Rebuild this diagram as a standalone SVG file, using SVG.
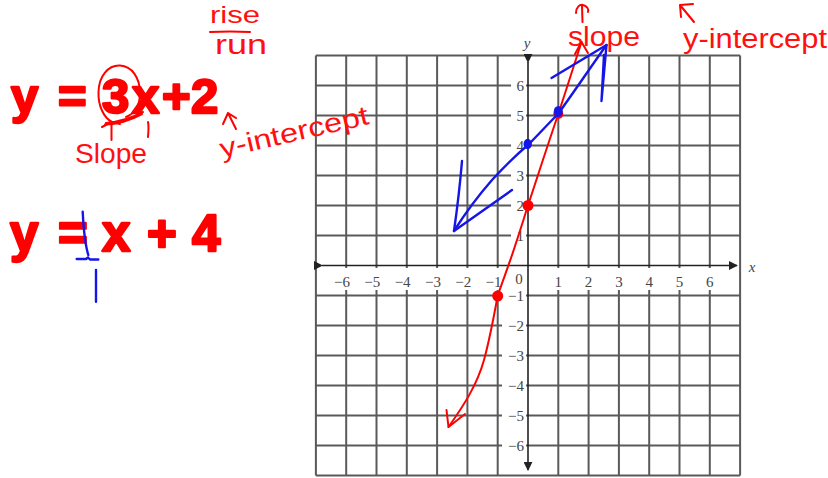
<svg xmlns="http://www.w3.org/2000/svg" width="828" height="478" viewBox="0 0 828 478">
<style>
.grid line{stroke:#5a5a5a;stroke-width:2}
.lbl{font-family:"Liberation Serif",serif;font-size:15px;fill:#454545}
.ax{stroke:#222;stroke-width:1.6;fill:none}
.eq{font-family:"Liberation Sans",Arial,sans-serif;font-weight:bold;fill:#ff0000;stroke:#ff0000;stroke-width:2.4;stroke-linejoin:round}
.hw{font-family:"Liberation Sans",Arial,sans-serif;fill:#ff1010}
.red{stroke:#ff0000;stroke-width:2;fill:none;stroke-linecap:round;stroke-linejoin:round}
.blue{stroke:#1515e8;stroke-width:2.4;fill:none;stroke-linecap:round;stroke-linejoin:round}
.bg{fill:#fff}
</style>
<defs>
<marker id="ah" viewBox="0 0 10 10" refX="9" refY="5" markerWidth="9" markerHeight="9" markerUnits="userSpaceOnUse" orient="auto">
<path d="M0,0 L10,5 L0,10 Z" fill="#222"/>
</marker>
</defs>
<rect width="828" height="478" fill="#fff"/>
<g id="grid" class="grid">
<line x1="315.9" y1="55.5" x2="315.9" y2="475.5"/>
<line x1="346.2" y1="55.5" x2="346.2" y2="475.5"/>
<line x1="376.5" y1="55.5" x2="376.5" y2="475.5"/>
<line x1="406.8" y1="55.5" x2="406.8" y2="475.5"/>
<line x1="437.1" y1="55.5" x2="437.1" y2="475.5"/>
<line x1="467.4" y1="55.5" x2="467.4" y2="475.5"/>
<line x1="497.7" y1="55.5" x2="497.7" y2="475.5"/>
<line x1="558.3" y1="55.5" x2="558.3" y2="475.5"/>
<line x1="588.6" y1="55.5" x2="588.6" y2="475.5"/>
<line x1="618.9" y1="55.5" x2="618.9" y2="475.5"/>
<line x1="649.2" y1="55.5" x2="649.2" y2="475.5"/>
<line x1="679.5" y1="55.5" x2="679.5" y2="475.5"/>
<line x1="709.8" y1="55.5" x2="709.8" y2="475.5"/>
<line x1="740.1" y1="55.5" x2="740.1" y2="475.5"/>
<line x1="315.9" y1="55.5" x2="740.1" y2="55.5"/>
<line x1="315.9" y1="85.5" x2="740.1" y2="85.5"/>
<line x1="315.9" y1="115.5" x2="740.1" y2="115.5"/>
<line x1="315.9" y1="145.5" x2="740.1" y2="145.5"/>
<line x1="315.9" y1="175.5" x2="740.1" y2="175.5"/>
<line x1="315.9" y1="205.5" x2="740.1" y2="205.5"/>
<line x1="315.9" y1="235.5" x2="740.1" y2="235.5"/>
<line x1="315.9" y1="295.5" x2="740.1" y2="295.5"/>
<line x1="315.9" y1="325.5" x2="740.1" y2="325.5"/>
<line x1="315.9" y1="355.5" x2="740.1" y2="355.5"/>
<line x1="315.9" y1="385.5" x2="740.1" y2="385.5"/>
<line x1="315.9" y1="415.5" x2="740.1" y2="415.5"/>
<line x1="315.9" y1="445.5" x2="740.1" y2="445.5"/>
<line x1="315.9" y1="475.5" x2="740.1" y2="475.5"/>
</g>
<g id="label-backs" class="bg">
<rect x="511" y="78" width="15" height="15"/>
<rect x="511" y="108" width="15" height="15"/>
<rect x="511" y="138" width="15" height="15"/>
<rect x="511" y="168" width="15" height="15"/>
<rect x="511" y="198" width="15" height="15"/>
<rect x="511" y="228" width="15" height="15"/>
<rect x="502" y="288" width="24" height="15"/>
<rect x="502" y="318" width="24" height="15"/>
<rect x="502" y="348" width="24" height="15"/>
<rect x="502" y="378" width="24" height="15"/>
<rect x="502" y="408" width="24" height="15"/>
<rect x="502" y="438" width="24" height="15"/>
<rect x="329" y="268" width="23" height="22"/>
<rect x="359" y="268" width="23" height="22"/>
<rect x="389" y="268" width="23" height="22"/>
<rect x="420" y="268" width="23" height="22"/>
<rect x="450" y="268" width="23" height="22"/>
<rect x="480" y="268" width="23" height="22"/>
<rect x="512" y="268" width="14" height="22"/>
<rect x="552" y="268" width="13" height="22"/>
<rect x="582" y="268" width="13" height="22"/>
<rect x="612" y="268" width="13" height="22"/>
<rect x="643" y="268" width="13" height="22"/>
<rect x="673" y="268" width="13" height="22"/>
<rect x="703" y="268" width="13" height="22"/>
</g>
<g id="axes">
<line class="ax" x1="322" y1="265.5" x2="737" y2="265.5" marker-start="url(#ah)" marker-end="url(#ah)"/>
<line class="ax" x1="528" y1="62" x2="528" y2="470" marker-start="url(#ah)" marker-end="url(#ah)"/>
<text x="527" y="48" text-anchor="middle" class="lbl" font-style="italic" font-size="16">y</text>
<text x="752" y="272" text-anchor="middle" class="lbl" font-style="italic" font-size="16">x</text>
</g>
<g id="y-labels" class="lbl" text-anchor="end">
<text x="524" y="90.5">6</text>
<text x="524" y="120.5">5</text>
<text x="524" y="150.5">4</text>
<text x="524" y="180.5">3</text>
<text x="524" y="210.5">2</text>
<text x="524" y="240.5">1</text>
<text x="524" y="300.5">−1</text>
<text x="524" y="330.5">−2</text>
<text x="524" y="360.5">−3</text>
<text x="524" y="390.5">−4</text>
<text x="524" y="420.5">−5</text>
<text x="524" y="450.5">−6</text>
</g>
<g id="x-labels" class="lbl">
<text x="350" y="287" text-anchor="end">−6</text>
<text x="380.3" y="287" text-anchor="end">−5</text>
<text x="410.6" y="287" text-anchor="end">−4</text>
<text x="440.9" y="287" text-anchor="end">−3</text>
<text x="471.2" y="287" text-anchor="end">−2</text>
<text x="501.5" y="287" text-anchor="end">−1</text>
<text x="519" y="284" text-anchor="middle">0</text>
<text x="558.3" y="287" text-anchor="middle">1</text>
<text x="588.6" y="287" text-anchor="middle">2</text>
<text x="618.9" y="287" text-anchor="middle">3</text>
<text x="649.2" y="287" text-anchor="middle">4</text>
<text x="679.5" y="287" text-anchor="middle">5</text>
<text x="709.8" y="287" text-anchor="middle">6</text>
</g>
<g id="equation-1">
<text class="eq" font-size="49" x="11 58 102 132 162 191" y="113">y=3x+2</text>
</g>
<g id="equation-2">
<text class="eq" font-size="51" x="10 58 102 147 192" y="251">y=x+4</text>
</g>
<g id="red-notes">
<text class="hw" x="210" y="23" font-size="24" textLength="50" lengthAdjust="spacingAndGlyphs">rise</text>
<path class="red" d="M210,32 Q230,31 250,32"/>
<text class="hw" x="215" y="54" font-size="27" textLength="52" lengthAdjust="spacingAndGlyphs">run</text>
<path class="red" d="M112,122 C104,118 98,106 98.5,92 C99,76 108,65 120,65.5 C132,66 140,78 140,93 C140,106 134,114 126,117"/>
<path class="red" d="M106,123 C118,122 132,118 143,112 M105,124.5 C118,124 131,120 142,114"/>
<path class="red" d="M111.5,140 L111.5,122 M102,127 L111.5,122 L120,124"/>
<path class="red" d="M148,122 C149,127 148.5,132 148,137"/>
<text class="hw" x="75" y="163" font-size="27" textLength="72" lengthAdjust="spacingAndGlyphs">Slope</text>
<path class="red" d="M223,124 L228,113 L236,118 M228,113 L236,129"/>
<text class="hw" x="222" y="158" font-size="27" textLength="152" lengthAdjust="spacingAndGlyphs" transform="rotate(-13 222 158)">y-intercept</text>
<path class="red" d="M582.5,22 L582,6 M576,13 C576,7 580,4 583,5 C587,6 589,9 588,12"/>
<text class="hw" x="568" y="46" font-size="28" textLength="72" lengthAdjust="spacingAndGlyphs">slope</text>
<path class="red" d="M681,17 L680,5 L693,4 M680,5 L694,22"/>
<text class="hw" x="683" y="48" font-size="27" textLength="144" lengthAdjust="spacingAndGlyphs">y-intercept</text>
</g>
<g id="red-line">
<path class="red" d="M448.5,427 C464,405 477,385 484,360 C490,338 494,316 497.7,295.5 C503,280 510,262 515,246 C520,231 524,218 528,205.5 C538,175 548,144 558.3,114 C566,90 574,66 581.5,42"/>
<path class="red" d="M446.5,410 L448.5,427 L465,414"/>
<path class="red" d="M575,54 L581.5,42 L588,53"/>
<circle cx="528" cy="205.5" r="5.5" fill="#ff0000"/>
<circle cx="497.7" cy="296" r="5.5" fill="#ff0000"/>
<circle cx="558.3" cy="114" r="5" fill="#ff0000"/>
</g>
<g id="blue-line">
<path class="blue" d="M454,231 C466,212 478,196 492,180 C504,167 516,155 528,145 C538,135 548,124 558,114 C574,92 590,68 606.5,45"/>
<path class="blue" d="M462,161 C460,185 457,210 454,231 L512,190"/>
<path class="blue" d="M551.5,78 L606.5,45 L601.5,101 L604,55"/>
<ellipse cx="527.7" cy="144" rx="3.2" ry="4.2" fill="#1515e8" stroke="#1515e8" stroke-width="2"/>
<ellipse cx="558.3" cy="111.5" rx="4.5" ry="5.5" fill="#1515e8"/>
<path class="blue" d="M82.7,211.7 C83.5,228 85,244 88.3,255 M76.7,259 L86,259 L88,257.5 L90,259.5 L98.3,259.5 M96,270 L96,301.7"/>
</g>
</svg>
